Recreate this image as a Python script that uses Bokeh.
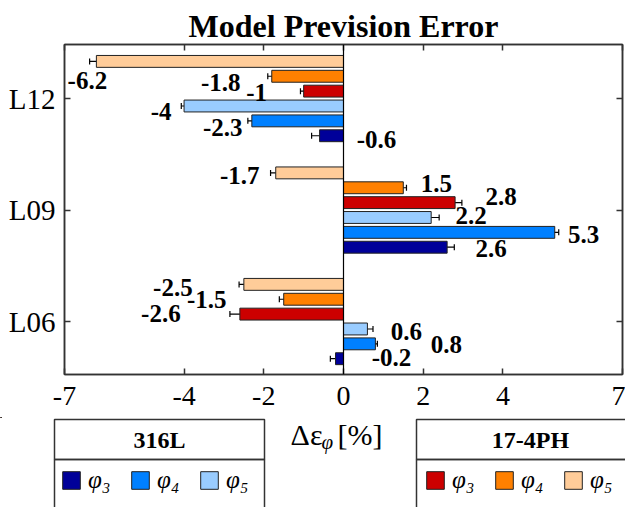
from bokeh.plotting import figure
from bokeh.layouts import column
from bokeh.models import (ColumnDataSource, FixedTicker, LinearAxis, Span, Whisker,
                          TeeHead, Legend, LegendItem, Range1d)
from bokeh.core.properties import value
from bokeh.embed import file_html
from bokeh.resources import INLINE

# Specimens along the y axis (bottom to top)
specimens = ["L06", "L09", "L12"]
group_pos = [1, 2, 3]

# Model prevision error Δε_φ [%] for L06, L09, L12
err_316_phi3 = [-0.2, 2.6, -0.6]
err_316_phi4 = [0.8, 5.3, -2.3]
err_316_phi5 = [0.6, 2.2, -4.0]
err_174_phi3 = [-2.6, 2.8, -1.0]
err_174_phi4 = [-1.5, 1.5, -1.8]
err_174_phi5 = [-2.5, -1.7, -6.2]

# Scatter (±) of each error
sd_316_phi3 = [0.13, 0.18, 0.20]
sd_316_phi4 = [0.05, 0.10, 0.10]
sd_316_phi5 = [0.14, 0.20, 0.07]
sd_174_phi3 = [0.25, 0.17, 0.08]
sd_174_phi4 = [0.11, 0.08, 0.10]
sd_174_phi5 = [0.12, 0.13, 0.17]

x_ticks = [-7, -4, -2, 0, 2, 4, 7]
x_tick_labels = ["-7", "-4", "-2", "0", "2", "4", "7"]
alloys = ["316L", "17-4PH"]
phi_labels = ["φ₃", "φ₄", "φ₅"]

# Series drawn bottom to top inside each group
series = [
    ("316L", 0, err_316_phi3, sd_316_phi3),
    ("316L", 1, err_316_phi4, sd_316_phi4),
    ("316L", 2, err_316_phi5, sd_316_phi5),
    ("17-4PH", 0, err_174_phi3, sd_174_phi3),
    ("17-4PH", 1, err_174_phi4, sd_174_phi4),
    ("17-4PH", 2, err_174_phi5, sd_174_phi5),
]
colors = ["#000099", "#0080FF", "#99CCFF", "#CC0000", "#FF8000", "#FFCC99"]

# Pixel nudges for the value labels (dx, dy) per series, per specimen
label_shift = [
    [(56, -1), (44, 1), (57, 4)],
    [(71, 1), (29, 2), (-29, 7)],
    [(39, 3), (40, -2), (-23, 5)],
    [(-79, -1), (46, -6), (-47, 1)],
    [(-77, 0), (33, -4), (-51, 6)],
    [(-71, 3), (-36, 3), (-9, 19)],
]

FONT = "Liberation Serif"
EDGE = "#333333"
n_series = len(series)
step = 0.8 / n_series
bar_h = step * 0.8

# ---------------- main bar chart ----------------
p = figure(width=625, height=417, x_range=Range1d(-7, 7), y_range=Range1d(0.525, 3.485),
           output_backend="svg", toolbar_location=None, frame_align=False,
           min_border_left=64, min_border_right=3, min_border_top=44, min_border_bottom=43,
           title="Model Prevision Error")
p.background_fill_color = "white"
p.border_fill_color = "white"
p.outline_line_color = EDGE
p.outline_line_width = 1.5
p.xgrid.visible = False
p.ygrid.visible = False

p.title.align = "center"
p.title.text_font = FONT
p.title.text_font_size = "32px"
p.title.text_font_style = "bold"
p.title.text_color = "black"
p.title.standoff = 2

for i, (alloy, k, vals, sds) in enumerate(series):
    off = (i - (n_series - 1) / 2) * step
    ys = [g + off for g in group_pos]
    src = ColumnDataSource(dict(
        y=ys, v=vals,
        lo=[v - s for v, s in zip(vals, sds)],
        hi=[v + s for v, s in zip(vals, sds)],
        txt=[f"{v:g}" for v in vals],
        dx=[d[0] for d in label_shift[i]],
        dy=[d[1] for d in label_shift[i]],
    ))
    p.hbar(y="y", left=0, right="v", height=bar_h, source=src,
           fill_color=colors[i], line_color="#222222", line_width=1)
    p.add_layout(Whisker(source=src, base="y", lower="lo", upper="hi", dimension="width",
                         line_color="black", line_width=1.2,
                         upper_head=TeeHead(size=6, line_color="black", line_width=1.2),
                         lower_head=TeeHead(size=6, line_color="black", line_width=1.2)))
    p.text(x="v", y="y", text="txt", x_offset="dx", y_offset="dy", source=src,
           text_align="center", text_baseline="middle", text_font=value(FONT),
           text_font_style="bold", text_font_size="25px", text_color="black")

p.add_layout(Span(location=0, dimension="height", line_color="black", line_width=1.2))

# Axes: ticks pointing inwards on all four sides
p.xaxis.ticker = FixedTicker(ticks=x_ticks)
p.xaxis.major_label_overrides = {t: s for t, s in zip(x_ticks, x_tick_labels)}
p.yaxis.ticker = FixedTicker(ticks=group_pos)
p.yaxis.major_label_overrides = {g: s for g, s in zip(group_pos, specimens)}
for ax in (p.xaxis[0], p.yaxis[0]):
    ax.major_tick_in = 6
    ax.major_tick_out = 0
    ax.minor_tick_line_color = None
    ax.axis_line_color = EDGE
    ax.axis_line_width = 1.5
    ax.major_tick_line_color = EDGE
    ax.major_tick_line_width = 1.5
    ax.major_label_text_font = FONT
    ax.major_label_text_color = "black"
p.xaxis.major_label_text_font_size = "28px"
p.yaxis.major_label_text_font_size = "29px"
p.xaxis.major_label_standoff = 12
p.yaxis.major_label_standoff = 9

for side, ticks in (("right", group_pos), ("above", x_ticks)):
    ax = LinearAxis(ticker=FixedTicker(ticks=ticks), major_tick_in=6, major_tick_out=0,
                    minor_tick_line_color=None, major_label_text_font_size="0px",
                    major_label_text_color=None, major_label_standoff=0,
                    axis_line_color=EDGE, axis_line_width=1.5,
                    major_tick_line_color=EDGE, major_tick_line_width=1.5)
    p.add_layout(ax, side)

# ---------------- legend strip with the x-axis label ----------------
H = 90
q = figure(width=625, height=H, x_range=Range1d(0, 625), y_range=Range1d(H, 0),
           output_backend="svg", toolbar_location=None, min_border=0, frame_align=False,
           x_axis_type=None, y_axis_type=None)
q.outline_line_color = None
q.xgrid.visible = False
q.ygrid.visible = False
q.background_fill_color = "white"
q.border_fill_color = "white"

# Legend frames: title cell on top, item cell below
box_left = [54, 416]
box_right = [264, 650]
title_x = [159, 530]
item_x = [60, 424]
q.quad(left=box_left * 2, right=box_right * 2, top=[2, 2, 42, 42], bottom=[42, 42, 120, 120],
       fill_color=None, line_color=EDGE, line_width=1.5)
q.text(x=title_x, y=[22, 22], text=alloys, text_align="center", text_baseline="middle",
       text_font=value(FONT), text_font_style="bold", text_font_size="24px",
       text_color="black")

# x-axis quantity: Δε with subscript φ, then the unit
q.text(x=[322], y=[0], text=["Δε"], text_align="right", text_baseline="top",
       text_font=value(FONT), text_font_size="30px", text_color="black")
q.text(x=[321], y=[24], text=["φ"], text_align="left", text_baseline="middle",
       text_font=value(FONT), text_font_style="italic", text_font_size="21px",
       text_color="black")
q.text(x=[337], y=[0], text=["[%]"], text_align="left", text_baseline="top",
       text_font=value(FONT), text_font_size="30px", text_color="black")

for a, alloy in enumerate(alloys):
    items = []
    for k in range(3):
        c = colors[a * 3 + k]
        # off-canvas proxy bar that only feeds the legend swatch
        r = q.hbar(y=[-100], left=[0], right=[1], height=1, fill_color=c,
                   line_color="#222222", line_width=1)
        items.append(LegendItem(label=phi_labels[k], renderers=[r]))
    lg = Legend(items=items, location=(item_x[a], 12), orientation="horizontal",
                border_line_color=None, background_fill_alpha=0, padding=0, margin=0,
                spacing=1, glyph_width=22, glyph_height=22, label_standoff=6,
                label_width=40, label_height=30, label_text_font=FONT,
                label_text_font_size="25px", label_text_font_style="italic",
                label_text_color="black")
    q.add_layout(lg, "center")

layout = column(p, q, spacing=0)
open("out.html", "w").write(file_html(layout, INLINE))
